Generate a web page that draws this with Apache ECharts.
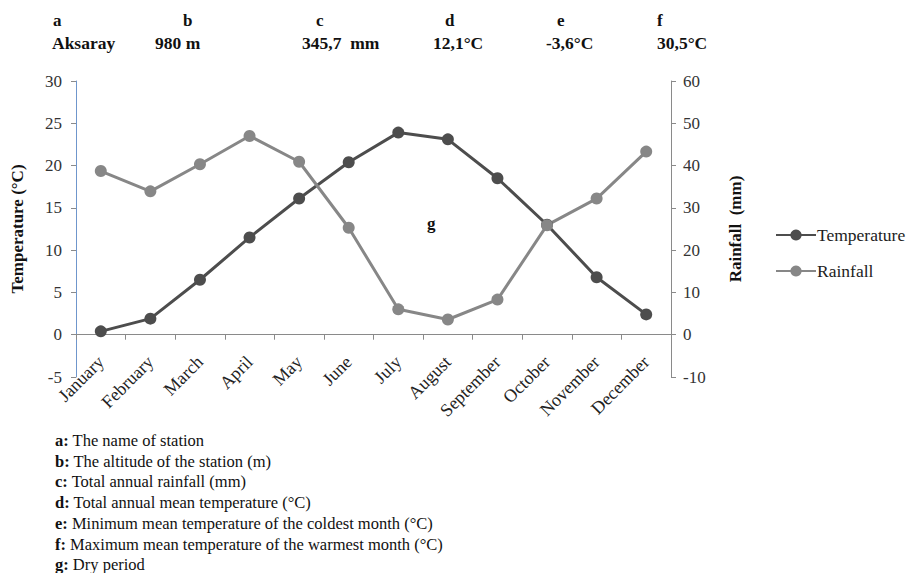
<!DOCTYPE html>
<html>
<head>
<meta charset="utf-8">
<script src="https://cdn.jsdelivr.net/npm/echarts@6/dist/echarts.min.js"></script>
<style>
html,body{margin:0;padding:0;background:#fff;}
#chart{width:911px;height:573px;}
</style>
</head>
<body>
<div id="chart"></div>
<script>
// ---- data ----
var months = ['January','February','March','April','May','June','July','August','September','October','November','December'];
var temperature = [0.4, 1.9, 6.5, 11.5, 16.1, 20.4, 23.9, 23.1, 18.5, 13.0, 6.8, 2.4];
var rainfall = [38.7, 33.9, 40.3, 47.0, 40.9, 25.3, 6.0, 3.6, 8.3, 25.9, 32.2, 43.3];
var headerKeys = ['a','b','c','d','e','f'];
var headerValues = ['Aksaray','980 m','345,7  mm','12,1°C','-3,6°C','30,5°C'];
var noteKeys = ['a:','b:','c:','d:','e:','f:','g:'];
var noteTexts = ['The name of station','The altitude of the station (m)','Total annual rainfall (mm)','Total annual mean temperature (°C)','Minimum mean temperature of the coldest month (°C)','Maximum mean temperature of the warmest month (°C)','Dry period'];
var tempAxis = {min: -5, max: 30, interval: 5};
var rainAxis = {min: -10, max: 60, interval: 10};

var FONT = 'Liberation Serif';
var chart = echarts.init(document.getElementById('chart'), null, {renderer: 'svg'});

var headerKeyX = [53, 183, 316, 445, 557, 657];
var headerValX = [52, 155, 302, 433, 546, 657];
var graphics = [];
headerKeys.forEach(function (k, i) {
  graphics.push({type: 'text', left: headerKeyX[i], top: 12,
    style: {text: k, fontFamily: FONT, fontSize: 17, fontWeight: 'bold', fill: '#111'}});
  graphics.push({type: 'text', left: headerValX[i], top: 34,
    style: {text: headerValues[i], fontFamily: FONT, fontSize: 17.5, fontWeight: 'bold', fill: '#111'}});
});
noteKeys.forEach(function (k, i) {
  graphics.push({type: 'text', left: 55, top: 432 + i * 20.7,
    style: {text: '{b|' + k + '} ' + noteTexts[i], fontFamily: FONT, fontSize: 16.5, fill: '#111',
      rich: {b: {fontWeight: 'bold', fontSize: 16.5, fontFamily: FONT, fill: '#111'}}}});
});
graphics.push({type: 'text', left: 427, top: 215,
  style: {text: 'g', fontFamily: FONT, fontSize: 17, fontWeight: 'bold', fill: '#111'}});

var option = {
  animation: false,
  backgroundColor: '#fff',
  textStyle: {fontFamily: FONT},
  graphic: graphics,
  grid: {left: 76, right: 240, top: 81, bottom: 196, containLabel: false},
  legend: {
    orient: 'vertical', left: 775, top: 226, padding: 0,
    itemWidth: 40, itemHeight: 14, itemGap: 18,
    textStyle: {fontFamily: FONT, fontSize: 17.5, color: '#222', padding: [0, 0, 0, -4]},
    data: ['Temperature', 'Rainfall']
  },
  xAxis: {
    type: 'category', data: months, boundaryGap: true,
    axisLine: {onZero: true, lineStyle: {color: '#8a8a8a', width: 1}},
    axisTick: {show: true, length: 5, lineStyle: {color: '#8a8a8a'}},
    axisLabel: {rotate: 45, margin: -18, interval: 0, fontFamily: FONT, fontSize: 18, color: '#222'},
    splitLine: {show: false}
  },
  yAxis: [{
    type: 'value', min: tempAxis.min, max: tempAxis.max, interval: tempAxis.interval,
    name: 'Temperature (°C)', nameLocation: 'middle', nameGap: 50, nameRotate: 90,
    nameTextStyle: {fontFamily: FONT, fontSize: 17, fontWeight: 'bold', color: '#111'},
    axisLine: {show: true, onZero: false, lineStyle: {color: '#6f96cc', width: 1}},
    axisTick: {show: true, length: 5, lineStyle: {color: '#8a8a8a'}},
    axisLabel: {margin: 14, fontFamily: FONT, fontSize: 17, color: '#333'},
    splitLine: {show: false}
  }, {
    type: 'value', min: rainAxis.min, max: rainAxis.max, interval: rainAxis.interval,
    name: 'Rainfall  (mm)', nameLocation: 'middle', nameGap: 56, nameRotate: 90,
    nameTextStyle: {fontFamily: FONT, fontSize: 17, fontWeight: 'bold', color: '#111'},
    axisLine: {show: true, onZero: false, lineStyle: {color: '#8a8a8a', width: 1}},
    axisTick: {show: true, length: 5, lineStyle: {color: '#8a8a8a'}},
    axisLabel: {margin: 12, fontFamily: FONT, fontSize: 17, color: '#333'},
    splitLine: {show: false}
  }],
  series: [{
    name: 'Temperature', type: 'line', yAxisIndex: 0, data: temperature,
    symbol: 'circle', symbolSize: 12,
    lineStyle: {color: '#4d4d4d', width: 3},
    itemStyle: {color: '#4d4d4d'}
  }, {
    name: 'Rainfall', type: 'line', yAxisIndex: 1, data: rainfall,
    symbol: 'circle', symbolSize: 12,
    lineStyle: {color: '#878787', width: 3},
    itemStyle: {color: '#878787'}
  }]
};
chart.setOption(option);
</script>
</body>
</html>
